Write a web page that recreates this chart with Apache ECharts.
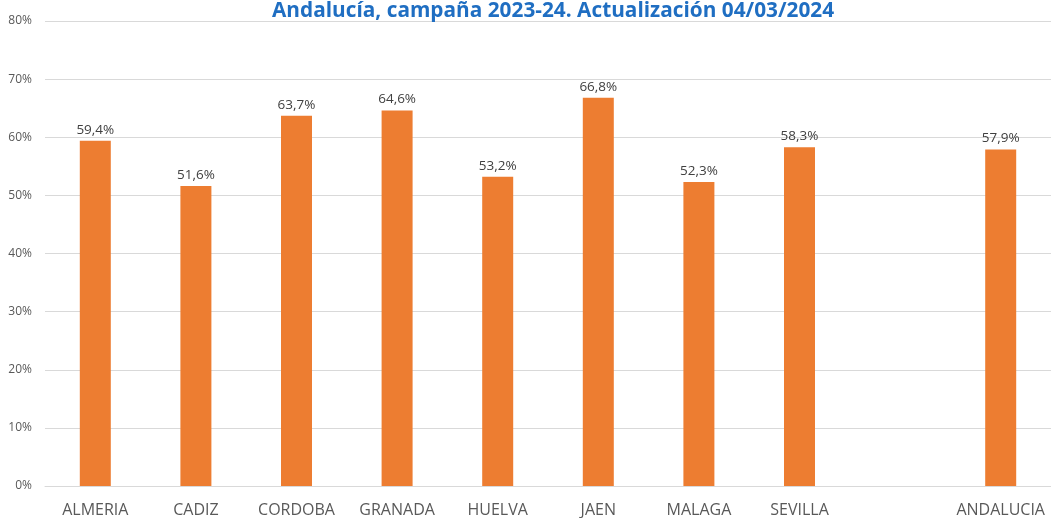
<!DOCTYPE html>
<html>
<head>
<meta charset="utf-8">
<script src="https://cdn.jsdelivr.net/npm/echarts@6/dist/echarts.min.js"></script>
<style>
  html, body { margin: 0; padding: 0; background: #fff; }
  #main { width: 1051px; height: 518px; }
</style>
</head>
<body>
<div id="main"></div>
<script>
// provincias (hueco vacio antes del total de Andalucia)
var categories = ['ALMERIA', 'CADIZ', 'CORDOBA', 'GRANADA', 'HUELVA', 'JAEN', 'MALAGA', 'SEVILLA', '', 'ANDALUCIA'];
var values = [59.4, 51.6, 63.7, 64.6, 53.2, 66.8, 52.3, 58.3, null, 57.9];
var yTicks = [0, 10, 20, 30, 40, 50, 60, 70, 80];

var myChart = echarts.init(document.getElementById('main'));

myChart.setOption({
    animation: false,
    title: {
        text: 'Andalucía, campaña 2023-24. Actualización 04/03/2024',
        left: 267,
        top: -4,
        textStyle: {
            fontFamily: 'Open Sans',
            fontWeight: 'bold',
            fontSize: 20.8,
            color: '#1f6ec2'
        }
    },
    grid: {
        left: 45,
        right: -9,
        top: 21,
        bottom: 32
    },
    xAxis: {
        type: 'category',
        data: categories,
        axisTick: { show: false },
        axisLine: { lineStyle: { color: '#d9d9d9', width: 1 } },
        axisLabel: {
            interval: 0,
            margin: 16,
            fontFamily: 'Open Sans',
            fontSize: 16,
            color: '#595959'
        }
    },
    yAxis: {
        type: 'value',
        min: yTicks[0],
        max: yTicks[yTicks.length - 1],
        interval: 10,
        axisLine: { show: false },
        axisTick: { show: false },
        splitLine: { lineStyle: { color: '#d9d9d9', width: 1 } },
        axisLabel: {
            margin: 13,
            fontFamily: 'Open Sans',
            fontSize: 12,
            color: '#595959',
            formatter: function (v) { return v + '%'; }
        }
    },
    series: [{
        type: 'bar',
        data: values,
        barWidth: 31,
        itemStyle: { color: '#ed7d31' },
        label: {
            show: true,
            position: 'top',
            distance: 4,
            fontFamily: 'Open Sans',
            fontSize: 13.5,
            color: '#404040',
            formatter: function (p) {
                return p.value == null ? '' : p.value.toFixed(1).replace('.', ',') + '%';
            }
        }
    }]
});
</script>
</body>
</html>
